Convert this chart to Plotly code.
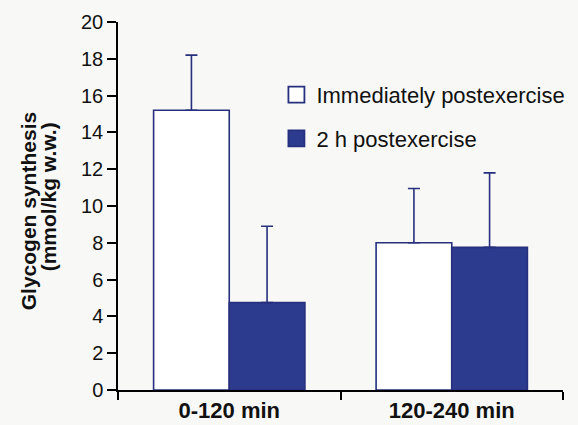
import plotly.graph_objects as go

categories = ["0-120 min", "120-240 min"]
immediate = [15.2, 8.0]
immediate_err = [3.0, 2.95]
two_h = [4.75, 7.75]
two_h_err = [4.15, 4.05]
series_names = ["Immediately postexercise", "2 h postexercise"]
y_title_lines = ["Glycogen synthesis", "(mmol/kg w.w.)"]

BLUE = "#2d3b8e"
EDGE = "#27307e"
BG = "#f8f8f6"
FONT = "Liberation Sans, Arial, sans-serif"

fig = go.Figure()
fig.add_trace(go.Bar(
    x=categories, y=immediate, name=series_names[0], showlegend=False,
    marker=dict(color="white", line=dict(color=EDGE, width=1.6)),
    error_y=dict(type="data", array=immediate_err, arrayminus=[0, 0], symmetric=False,
                 color=EDGE, thickness=1.6, width=6),
))
fig.add_trace(go.Bar(
    x=categories, y=two_h, name=series_names[1], showlegend=False,
    marker=dict(color=BLUE, line=dict(color=EDGE, width=1.6)),
    error_y=dict(type="data", array=two_h_err, arrayminus=[0, 0], symmetric=False,
                 color=EDGE, thickness=1.6, width=6),
))
# legend entries (larger square swatches)
fig.add_trace(go.Scatter(
    x=[None], y=[None], mode="markers", name=series_names[0], legendgroup="a",
    marker=dict(symbol="square", size=16, color="white", line=dict(color=EDGE, width=1.8)),
))
fig.add_trace(go.Scatter(
    x=[None], y=[None], mode="markers", name=series_names[1], legendgroup="b",
    marker=dict(symbol="square", size=16, color=BLUE, line=dict(color=EDGE, width=1.8)),
))

fig.update_layout(
    width=578, height=425,
    margin=dict(l=118, r=15, t=22, b=35, autoexpand=False),
    paper_bgcolor=BG, plot_bgcolor=BG,
    barmode="group", bargap=0.32, bargroupgap=0,
    font=dict(family=FONT, size=20, color="#111111"),
    showlegend=True,
    legend=dict(x=0.356, y=0.859, xanchor="left", yanchor="top",
                bgcolor="rgba(0,0,0,0)", font=dict(size=22),
                traceorder="grouped", tracegroupgap=12),
    xaxis=dict(
        type="category", range=[-0.5, 1.5], tickson="boundaries", automargin=False,
        showline=True, linecolor="black", linewidth=1.5,
        ticks="outside", ticklen=8, tickcolor="black", tickwidth=1.5,
        tickfont=dict(family=FONT, size=22, color="#111111", weight="bold"),
        showgrid=False, zeroline=False,
    ),
    yaxis=dict(
        range=[0, 20], tickvals=list(range(0, 21, 2)), automargin=False,
        showline=True, linecolor="black", linewidth=1.5,
        ticks="outside", ticklen=9, tickcolor="black", tickwidth=1.5,
        tickfont=dict(size=20),
        showgrid=False, zeroline=False,
    ),
    annotations=[
        dict(text="<b>%s</b>" % y_title_lines[0], xref="paper", yref="paper",
             x=-0.202, y=0.486, xanchor="center", yanchor="middle",
             textangle=-90, showarrow=False, font=dict(size=21)),
        dict(text="<b>%s</b>" % y_title_lines[1], xref="paper", yref="paper",
             x=-0.157, y=0.524, xanchor="center", yanchor="middle",
             textangle=-90, showarrow=False, font=dict(size=21)),
    ],
)

fig.write_html("out.html",
               config={"displayModeBar": False},
               post_script="document.body.style.margin='0px';"
                           "document.body.style.background='%s';" % BG)
